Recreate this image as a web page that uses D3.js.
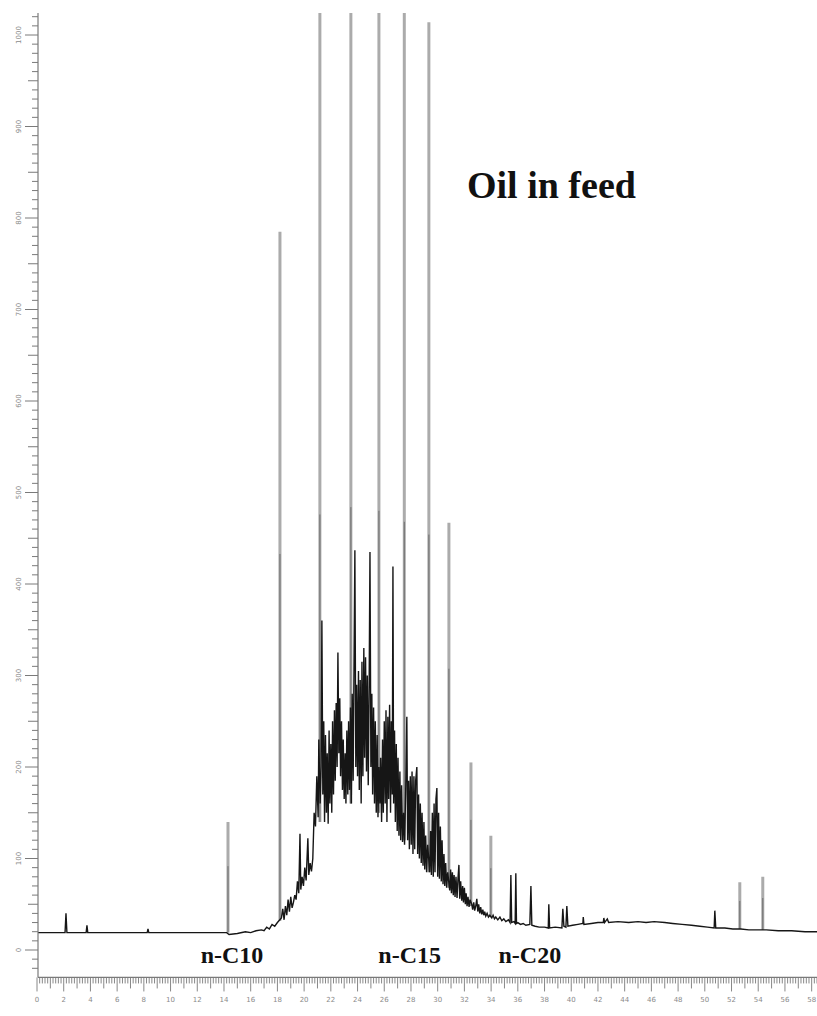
<!DOCTYPE html>
<html>
<head>
<meta charset="utf-8">
<script src="https://cdn.jsdelivr.net/npm/d3@7"></script>
<style>
  html, body { margin: 0; padding: 0; background: #fff; }
  svg { display: block; }
  .tick-label { font-family: "DejaVu Sans", sans-serif; font-size: 7px; fill: #8a8a8a; }
  .note { font-family: "Liberation Serif", "Times New Roman", serif; font-weight: bold; fill: #111; }
</style>
</head>
<body>
<svg id="chart" width="817" height="1016"></svg>
<script>
// retention time (min) / detector response
const signal = [
  [0,19],[2.1,19],[2.17,40],[2.24,19],[3.68,19],[3.74,27],[3.8,19],[8.25,19],[8.31,23],[8.37,19],
  [14.2,19],[14.38,17],[15.0,18],[15.6,20],[16.0,19],[16.4,21],[16.8,22],[17.0,21],[17.2,25],
  [17.4,23],[17.6,28],[17.8,26],[18.0,30],
  [18.3,35],[18.4,45],[18.5,33],[18.6,48],[18.7,38],[18.8,55],[18.9,42],[19.0,58],[19.1,46],
  [19.2,52],[19.3,60],[19.4,55],[19.5,75],[19.6,62],[19.69,127],[19.75,66],[19.85,80],[19.95,70],
  [20.05,90],[20.15,76],[20.28,122],[20.35,82],[20.45,95],[20.55,86],[20.65,100],
  [20.75,150],[20.85,135],[20.95,190],[21.05,145],[21.1,230],[21.2,160],[21.27,200],[21.33,360],
  [21.4,170],[21.47,250],[21.53,140],[21.6,235],[21.67,150],[21.73,215],[21.8,138],[21.87,240],
  [21.93,160],[22.0,225],[22.07,150],[22.13,250],[22.2,170],[22.27,262],[22.33,185],[22.4,270],
  [22.47,200],[22.53,325],[22.6,215],[22.67,275],[22.73,190],[22.8,250],[22.87,175],[22.93,230],
  [23.0,165],[23.07,215],[23.13,160],[23.2,240],
  [23.27,170],[23.33,250],[23.4,175],[23.47,265],[23.53,160],[23.6,280],[23.67,185],[23.73,300],
  [23.8,437],[23.87,200],[23.93,290],[24.0,190],[24.07,305],[24.13,175],[24.2,295],[24.27,160],
  [24.33,315],[24.4,190],[24.47,330],[24.53,210],[24.6,320],[24.67,195],[24.73,300],[24.8,180],
  [24.87,290],[24.93,435],[25.0,200],[25.07,280],[25.13,170],[25.2,265],[25.27,160],[25.33,250],
  [25.4,150],[25.47,235],[25.53,145],[25.6,200],
  [25.67,160],[25.73,210],[25.8,140],[25.87,230],[25.93,150],[26.0,250],[26.07,160],[26.13,262],
  [26.2,140],[26.27,255],[26.33,165],[26.4,268],[26.47,150],[26.53,250],[26.6,170],[26.65,419],
  [26.7,160],[26.77,240],[26.83,140],[26.9,225],[26.97,130],[27.03,210],[27.1,125],[27.17,195],
  [27.23,120],[27.3,180],[27.37,118],
  [27.45,150],[27.52,115],[27.6,170],[27.69,255],[27.75,120],[27.82,185],[27.88,110],[27.95,190],
  [28.02,115],[28.08,195],[28.15,105],[28.22,190],[28.28,110],[28.35,185],[28.44,200],[28.5,105],
  [28.57,170],[28.63,100],[28.7,160],[28.77,95],[28.83,150],[28.9,92],[28.97,140],[29.03,88],
  [29.1,125],[29.17,85],[29.25,115],
  [29.4,85],[29.47,130],[29.53,82],[29.6,150],[29.67,80],[29.73,160],[29.8,85],[29.87,165],
  [29.94,177],[30.0,80],[30.07,150],[30.13,78],[30.2,135],[30.27,75],[30.33,120],[30.4,72],
  [30.47,105],[30.53,70],[30.6,95],[30.67,68],[30.75,85],
  [30.9,65],[30.97,88],[31.03,62],[31.1,85],[31.17,60],[31.23,82],[31.3,58],[31.37,80],[31.45,57],
  [31.52,78],[31.59,93],[31.65,56],[31.72,75],[31.8,54],[31.87,70],[31.93,52],[32.0,68],[32.07,50],
  [32.13,62],[32.2,48],[32.27,58],[32.35,47],[32.42,55],
  [32.55,50],[32.62,44],[32.7,52],[32.77,43],[32.85,48],[32.93,56],[33.0,42],[33.07,50],[33.15,40],
  [33.22,47],[33.3,39],[33.38,44],[33.45,38],[33.52,42],[33.6,37],[33.7,40],[33.8,36],[33.9,38],
  [34.05,35],[34.15,38],[34.25,34],[34.35,36],[34.5,33],[34.66,36],[34.8,32],[34.95,34],[35.1,31],
  [35.3,33],[35.42,30],[35.48,82],[35.54,30],[35.7,31],[35.8,29],[35.85,84],[35.9,29],[36.0,30],
  [36.2,28],[36.4,29],[36.6,27],[36.9,28],[36.98,70],[37.05,27],[37.3,26],[37.6,25],
  [38.0,25],[38.28,24],[38.32,50],[38.38,24],[38.8,25],[39.3,24],[39.37,45],[39.45,26],[39.6,25],
  [39.67,48],[39.75,26],[40.1,27],[40.5,28],[40.87,29],[40.9,36],[40.95,28],[41.5,29],[42.0,30],
  [42.4,30],[42.44,35],[42.5,30],[42.7,34],[42.8,30],[43.5,31],[44.3,30],[45.0,31],[45.6,30],
  [46.2,31],[47.0,30],[47.6,29],[48.3,28],[49.0,27],[49.63,26],[50.2,25],[50.7,24],[50.75,43],
  [50.82,24],[51.5,24],[52.1,23],[52.7,23],[53.3,22],[54.0,22],[54.6,22],[55.5,21],[56.5,21],
  [57.5,20],[58.4,20]
];

// tall, light peaks: [time, apex, foot]
const majorPeaks = [
  [14.3, 140, 19], [18.19, 785, 32], [21.18, 1100, 140], [23.5, 1100, 160],
  [25.6, 1100, 150], [27.5, 1100, 120], [29.34, 1014, 85], [30.84, 467, 68],
  [32.49, 205, 48], [33.98, 125, 36], [52.62, 74, 23], [54.34, 80, 22]
];

const carbonLabels = [["n-C10", 14.6], ["n-C15", 27.9], ["n-C20", 36.9]];
const xTickLabels = d3.range(0, 59, 2);
const yTickLabels = [0, 100, 200, 300, 400, 500, 600, 700, 800, 900, 1000];
const title = "Oil in feed";

const svg = d3.select("#chart");
const x = d3.scaleLinear().domain([0, 58.4]).range([37, 817]);
const y = d3.scaleLinear().domain([0, 1000]).range([950, 35]);
const axisColor = "#7a7a7a";
const xAxisY = y(-30);
const yAxisX = 38;

svg.append("defs").append("clipPath").attr("id", "plot-clip")
  .append("rect").attr("x", yAxisX).attr("y", 13)
  .attr("width", 817 - yAxisX).attr("height", xAxisY - 13);

const plot = svg.append("g").attr("clip-path", "url(#plot-clip)");

// light tall peaks
plot.selectAll(".major").data(majorPeaks).join("line")
  .attr("class", "major")
  .attr("x1", d => x(d[0])).attr("x2", d => x(d[0]))
  .attr("y1", d => y(d[2])).attr("y2", d => y(d[1]))
  .attr("stroke", "#ababab").attr("stroke-width", 3);

// darker core in the lower part of the peaks
plot.selectAll(".core").data(majorPeaks).join("line")
  .attr("class", "core")
  .attr("x1", d => x(d[0])).attr("x2", d => x(d[0]))
  .attr("y1", d => y(d[2])).attr("y2", d => y(Math.min(d[1], 700) * 0.6 + d[2] * 0.4))
  .attr("stroke", "#6e6e6e").attr("stroke-width", 1);

const line = d3.line().x(d => x(d[0])).y(d => y(d[1]));
plot.append("path").datum(signal)
  .attr("d", line)
  .attr("fill", "none")
  .attr("stroke", "#161616")
  .attr("stroke-width", 1.4)
  .attr("stroke-linejoin", "miter");

// y axis
const yAxisG = svg.append("g").attr("transform", `translate(${yAxisX},0)`);
yAxisG.append("line").attr("y1", 13).attr("y2", xAxisY)
  .attr("stroke", axisColor).attr("stroke-width", 1.2);
yAxisG.selectAll(".ytick").data(d3.range(-20, 1021, 10)).join("line")
  .attr("class", "ytick")
  .attr("x1", d => d % 100 === 0 ? -13 : d % 50 === 0 ? -10 : -6)
  .attr("x2", 0)
  .attr("y1", d => y(d)).attr("y2", d => y(d))
  .attr("stroke", axisColor).attr("stroke-width", 1);
yAxisG.selectAll(".ylab").data(yTickLabels).join("text")
  .attr("class", "tick-label")
  .attr("transform", d => `translate(-17,${y(d)}) rotate(-90)`)
  .attr("text-anchor", "middle")
  .text(d => d);

// x axis
const xAxisG = svg.append("g").attr("transform", `translate(0,${xAxisY})`);
xAxisG.append("line").attr("x1", yAxisX).attr("x2", 817)
  .attr("stroke", axisColor).attr("stroke-width", 1.2);
xAxisG.selectAll(".xtick").data(d3.range(0, 58.41, 0.2)).join("line")
  .attr("class", "xtick")
  .attr("x1", d => x(d)).attr("x2", d => x(d))
  .attr("y1", 0)
  .attr("y2", d => {
    const r = Math.round(d * 10);
    return r % 20 === 0 ? 14 : r % 10 === 0 ? 11 : 6;
  })
  .attr("stroke", axisColor).attr("stroke-width", 0.9);
xAxisG.selectAll(".xlab").data(xTickLabels).join("text")
  .attr("class", "tick-label")
  .attr("x", d => x(d)).attr("y", 25)
  .attr("text-anchor", "middle")
  .text(d => d);

// annotations
svg.selectAll(".carbon").data(carbonLabels).join("text")
  .attr("class", "note")
  .attr("x", d => x(d[1])).attr("y", 963)
  .attr("text-anchor", "middle")
  .attr("font-size", 24)
  .text(d => d[0]);

svg.append("text").attr("class", "note")
  .attr("x", 467).attr("y", 198)
  .attr("font-size", 38)
  .text(title);
</script>
</body>
</html>
